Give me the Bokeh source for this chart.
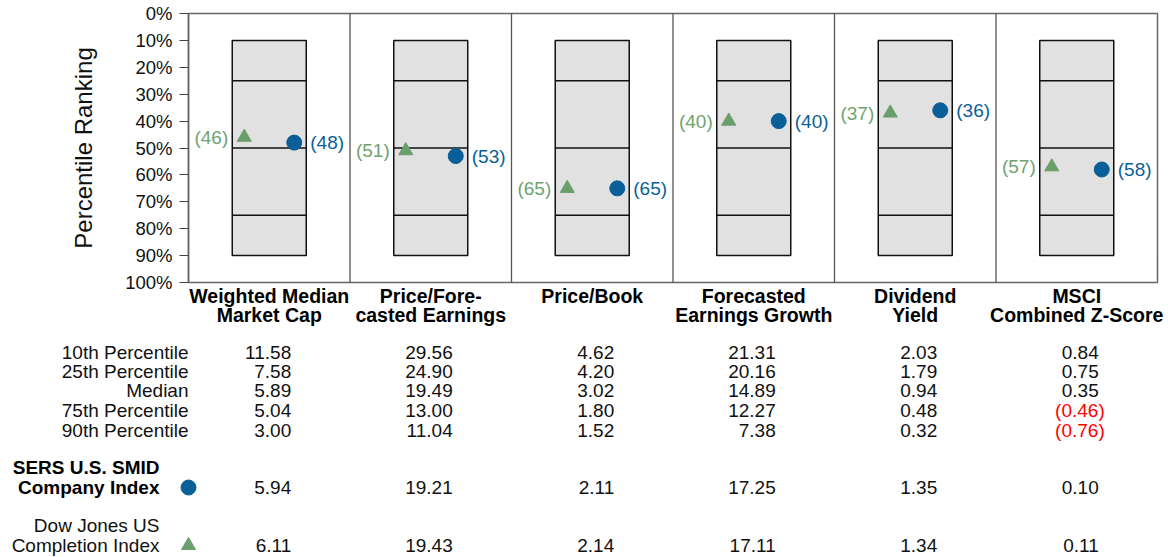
from bokeh.plotting import figure
from bokeh.models import ColumnDataSource, LabelSet, Range1d, FixedTicker, PrintfTickFormatter
from bokeh.core.properties import value
from bokeh.embed import file_html
from bokeh.resources import INLINE

# ---------------- data ----------------
categories = ["Weighted Median\nMarket Cap", "Price/Fore-\ncasted Earnings", "Price/Book",
              "Forecasted\nEarnings Growth", "Dividend\nYield", "MSCI\nCombined Z-Score"]
sers_rank = [48, 53, 65, 40, 36, 58]
dj_rank = [46, 51, 65, 40, 37, 57]
band_edges = [10, 25, 50, 75, 90]
y_ticks = [0, 10, 20, 30, 40, 50, 60, 70, 80, 90, 100]

row_labels = ["10th Percentile", "25th Percentile", "Median", "75th Percentile", "90th Percentile"]
p10 = [11.58, 29.56, 4.62, 21.31, 2.03, 0.84]
p25 = [7.58, 24.90, 4.20, 20.16, 1.79, 0.75]
p50 = [5.89, 19.49, 3.02, 14.89, 0.94, 0.35]
p75 = [5.04, 13.00, 1.80, 12.27, 0.48, -0.46]
p90 = [3.00, 11.04, 1.52, 7.38, 0.32, -0.76]
sers_name = ["SERS U.S. SMID", "Company Index"]
sers_values = [5.94, 19.21, 2.11, 17.25, 1.35, 0.10]
dj_name = ["Dow Jones US", "Completion Index"]
dj_values = [6.11, 19.43, 2.14, 17.11, 1.34, 0.11]

# ---------------- style / layout ----------------
FONT = "Liberation Sans"
BLUE = "#0A5F98"
GREEN = "#6A9E6A"
GREEN_TXT = "#6FA36F"
W, H = 1166, 556
CH_TOP, CH_LEFT, CH_RIGHT, CH_H = 13, 188, 1157, 269   # chart area in canvas pixels
N = len(categories)
PX_X = (CH_RIGHT - CH_LEFT) / N     # px per panel unit
PX_Y = CH_H / 100.0                 # px per percentile unit
BOX_HALF = 37 / PX_X
MARK_OFF = 25 / PX_X
VAL_OFF = 22 / PX_X


def yu(px):
    """canvas pixel (from top) -> y data unit (percentile scale)"""
    return (px - CH_TOP) / PX_Y


p = figure(width=W, height=H,
           x_range=Range1d(-CH_LEFT / PX_X, N + (W - CH_RIGHT) / PX_X),
           y_range=Range1d(yu(H), yu(0)),
           output_backend="svg", toolbar_location=None, title=None,
           min_border_left=0, min_border_right=0, min_border_top=0, min_border_bottom=0)
p.xaxis.visible = False
p.xgrid.visible = False
p.ygrid.visible = False
p.outline_line_color = None
p.background_fill_color = "white"
p.border_fill_color = "white"

ya = p.yaxis[0]
ya.fixed_location = 0
ya.bounds = (y_ticks[0], y_ticks[-1])
ya.ticker = FixedTicker(ticks=y_ticks)
ya.formatter = PrintfTickFormatter(format="%d%%")
ya.axis_label = "Percentile Ranking"
ya.axis_label_text_font = FONT
ya.axis_label_text_font_size = "24px"
ya.axis_label_text_font_style = "normal"
ya.axis_label_text_color = "#111111"
ya.axis_label_standoff = 25
ya.major_label_text_font = FONT
ya.major_label_text_font_size = "18.5px"
ya.major_label_text_color = "#111111"
ya.major_label_standoff = 7
ya.major_tick_in = 0
ya.major_tick_out = 9
ya.minor_tick_in = 0
ya.minor_tick_out = 0
ya.axis_line_color = "#666666"
ya.axis_line_width = 1.5
ya.major_tick_line_color = "#444444"

centers = [i + 0.5 for i in range(N)]

# chart border and panel separators
p.quad(left=[0], right=[N], top=[y_ticks[0]], bottom=[y_ticks[-1]],
       fill_color=None, line_color="#666666", line_width=1.5)
p.segment(x0=list(range(1, N)), y0=[y_ticks[0]] * (N - 1), x1=list(range(1, N)), y1=[y_ticks[-1]] * (N - 1),
          line_color="#555555", line_width=1.3)

# boxes
p.quad(left=[c - BOX_HALF for c in centers], right=[c + BOX_HALF for c in centers],
       top=[band_edges[0]] * N, bottom=[band_edges[-1]] * N,
       fill_color="#E1E1E1", line_color="#111111", line_width=1.5)
sx0, sx1, sy = [], [], []
for c in centers:
    for b in band_edges[1:-1]:
        sx0.append(c - BOX_HALF)
        sx1.append(c + BOX_HALF)
        sy.append(b)
p.segment(x0=sx0, y0=sy, x1=sx1, y1=sy, line_color="#111111", line_width=1.3)

# markers + value labels
dj_src = ColumnDataSource(dict(x=[c - MARK_OFF for c in centers], y=dj_rank,
                               t=[f"({v})" for v in dj_rank]))
sers_src = ColumnDataSource(dict(x=[c + MARK_OFF for c in centers], y=sers_rank,
                                 t=[f"({v})" for v in sers_rank]))
p.scatter(x="x", y="y", source=dj_src, marker="triangle", size=14, fill_color=GREEN, line_color=GREEN)
p.scatter(x="x", y="y", source=sers_src, marker="circle", size=15, fill_color=BLUE, line_color=BLUE)
p.add_layout(LabelSet(x="x", y="y", text="t", source=dj_src, x_offset=-16, text_align="right",
                      text_baseline="middle", text_color=GREEN_TXT, text_font=value(FONT),
                      text_font_size="19px"))
p.add_layout(LabelSet(x="x", y="y", text="t", source=sers_src, x_offset=16, text_align="left",
                      text_baseline="middle", text_color=BLUE, text_font=value(FONT),
                      text_font_size="19px"))

# ---------------- headers + table below the chart ----------------
header_px = [295, 314]
row_px = [352, 371, 390, 410, 430]
sers_px = [467, 487]
dj_px = [525, 545]

hx, hy, ht = [], [], []
for c, cat in zip(centers, categories):
    for k, line in enumerate(cat.split("\n")):
        hx.append(c)
        hy.append(yu(header_px[k]))
        ht.append(line)
p.text(x="x", y="y", text="t", source=ColumnDataSource(dict(x=hx, y=hy, t=ht)),
       text_align="center", text_baseline="middle", text_color="#000000",
       text_font=value(FONT), text_font_size=value("19.5px"), text_font_style=value("bold"))


def fmt(v):
    return f"({abs(v):.2f})" if v < 0 else f"{v:.2f}"


tx, ty, tt, tc, to = [], [], [], [], []
table_rows = list(zip([p10, p25, p50, p75, p90], row_px)) + [(sers_values, sers_px[1]), (dj_values, dj_px[1])]
for vals, rpx in table_rows:
    for c, v in zip(centers, vals):
        tx.append(c + VAL_OFF)
        ty.append(yu(rpx))
        tt.append(fmt(v))
        tc.append("#FF0000" if v < 0 else "#111111")
        to.append(6 if v < 0 else 0)
p.text(x="x", y="y", text="t", x_offset="o", text_color="c",
       source=ColumnDataSource(dict(x=tx, y=ty, t=tt, c=tc, o=to)),
       text_align="right", text_baseline="middle",
       text_font=value(FONT), text_font_size=value("19px"))

# row labels
p.text(x=[0] * len(row_labels), y=[yu(r) for r in row_px], text=row_labels,
       text_align="right", text_baseline="middle", text_color="#111111",
       text_font=value(FONT), text_font_size=value("19px"))
NAME_X = -29 / PX_X
p.text(x=[NAME_X] * 2, y=[yu(r) for r in sers_px], text=sers_name,
       text_align="right", text_baseline="middle", text_color="#000000",
       text_font=value(FONT), text_font_size=value("19px"), text_font_style=value("bold"))
p.text(x=[NAME_X] * 2, y=[yu(r) for r in dj_px], text=dj_name,
       text_align="right", text_baseline="middle", text_color="#111111",
       text_font=value(FONT), text_font_size=value("19px"))

# legend symbols in the table
p.scatter(x=[0], y=[yu(sers_px[1])], marker="circle", size=15, fill_color=BLUE, line_color=BLUE)
p.scatter(x=[0], y=[yu(dj_px[1])], marker="triangle", size=14, fill_color=GREEN, line_color=GREEN)

open("out.html", "w").write(file_html(p, INLINE))
